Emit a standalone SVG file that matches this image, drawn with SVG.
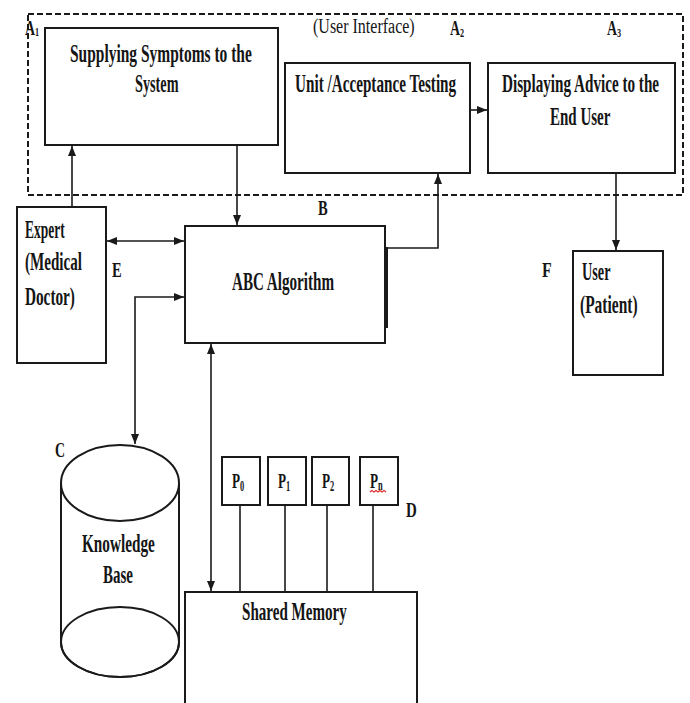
<svg xmlns="http://www.w3.org/2000/svg" width="690" height="703" viewBox="0 0 690 703">
<style>
.t{font-family:"Liberation Serif","Times New Roman",serif;font-weight:bold;font-size:25px;fill:#151515}
.l{font-family:"Liberation Serif","Times New Roman",serif;font-weight:bold;font-size:22px;fill:#151515}
.h{font-family:"Liberation Serif","Times New Roman",serif;font-weight:normal;font-size:20px;fill:#151515}
.box{fill:#fff;stroke:#1a1a1a;stroke-width:2}
.c{fill:none;stroke:#1a1a1a;stroke-width:1.6}
.frame{fill:none;stroke:#1a1a1a;stroke-width:2;stroke-dasharray:6 3}
</style>
<defs>
<marker id="ah" markerUnits="userSpaceOnUse" markerWidth="10" markerHeight="10" viewBox="0 0 10 10" refX="10" refY="5" orient="auto-start-reverse">
<path d="M0,1 L10,5 L0,9 Z" fill="#1a1a1a"/>
</marker>
</defs>
<rect width="690" height="703" fill="#fff"/>

<g id="ui-frame">
<rect class="frame" x="28" y="14" width="655" height="181"/>
<text class="h" transform="translate(313,33) scale(0.8,1)">(User Interface)</text>
<text class="l" transform="translate(25,35) scale(0.63,1)">A<tspan font-size="13" dy="1">1</tspan></text>
<text class="l" transform="translate(450,35) scale(0.63,1)">A<tspan font-size="13" dy="2">2</tspan></text>
<text class="l" transform="translate(607,35) scale(0.63,1)">A<tspan font-size="13" dy="2">3</tspan></text>
</g>

<g id="connectors">
<line class="c" x1="72" y1="207" x2="72" y2="146" marker-end="url(#ah)"/>
<line class="c" x1="237" y1="145" x2="237" y2="225" marker-end="url(#ah)"/>
<line class="c" x1="107" y1="241" x2="184" y2="241" marker-start="url(#ah)" marker-end="url(#ah)"/>
<polyline class="c" points="184,297 135,297 135,444" marker-start="url(#ah)" marker-end="url(#ah)"/>
<line class="c" x1="211" y1="344" x2="211" y2="591" marker-start="url(#ah)" marker-end="url(#ah)"/>
<polyline class="c" points="387,248 438,248 438,174" marker-end="url(#ah)"/>
<line class="c" x1="470" y1="110" x2="487" y2="110" marker-end="url(#ah)"/>
<line class="c" x1="616" y1="173" x2="616" y2="250" marker-end="url(#ah)"/>
<line class="c" x1="240" y1="505" x2="240" y2="592"/>
<line class="c" x1="285" y1="505" x2="285" y2="592"/>
<line class="c" x1="327" y1="505" x2="327" y2="592"/>
<line class="c" x1="373" y1="505" x2="373" y2="592"/>
</g>

<g id="supplying">
<rect class="box" x="45" y="28" width="233" height="117"/>
<text class="t" transform="translate(70,62) scale(0.619,1)">Supplying Symptoms to the</text>
<text class="t" transform="translate(135,92) scale(0.57,1)">System</text>
</g>

<g id="unit-testing">
<rect class="box" x="285" y="63" width="185" height="110"/>
<text class="t" transform="translate(295,92) scale(0.608,1)">Unit /Acceptance Testing</text>
</g>

<g id="displaying">
<rect class="box" x="488" y="63" width="187" height="110"/>
<text class="t" transform="translate(502,92) scale(0.607,1)">Displaying Advice to the</text>
<text class="t" transform="translate(550,125) scale(0.6,1)">End User</text>
</g>

<g id="expert">
<rect class="box" x="17" y="207" width="89" height="156"/>
<text class="t" transform="translate(25,238) scale(0.54,1)">Expert</text>
<text class="t" transform="translate(25,270) scale(0.604,1)">(Medical</text>
<text class="t" transform="translate(25,305) scale(0.61,1)">Doctor)</text>
<text class="l" transform="translate(112,277) scale(0.66,1)">E</text>
</g>

<g id="abc">
<rect class="box" x="185" y="226" width="200" height="117"/>
<line x1="387" y1="247" x2="387" y2="328" stroke="#1a1a1a" stroke-width="2"/>
<text class="t" transform="translate(232,290) scale(0.605,1)">ABC Algorithm</text>
<text class="l" transform="translate(318,215) scale(0.66,1)">B</text>
</g>

<g id="user">
<rect class="box" x="573" y="251" width="90" height="124"/>
<text class="t" transform="translate(582,280) scale(0.57,1)">User</text>
<text class="t" transform="translate(580,313) scale(0.62,1)">(Patient)</text>
<text class="l" transform="translate(542,277) scale(0.72,1)">F</text>
</g>

<g id="knowledge-base">
<path class="box" d="M61,483 L61,642 A59,35 0 0 0 179,642 L179,483"/>
<ellipse class="box" cx="120" cy="483" rx="59" ry="38"/>
<ellipse cx="120" cy="642" rx="59" ry="35" fill="none" stroke="#1a1a1a" stroke-width="2"/>
<text class="t" transform="translate(82,552) scale(0.61,1)">Knowledge</text>
<text class="t" transform="translate(103,583) scale(0.6,1)">Base</text>
<text class="l" transform="translate(55,457) scale(0.63,1)">C</text>
</g>

<g id="p0">
<rect class="box" x="222" y="457" width="38" height="48"/>
<text class="l" transform="translate(232,488) scale(0.6,1)">P<tspan font-size="14" dy="3">0</tspan></text>
</g>
<g id="p1">
<rect class="box" x="268" y="457" width="38" height="48"/>
<text class="l" transform="translate(278,488) scale(0.6,1)">P<tspan font-size="14" dy="3">1</tspan></text>
</g>
<g id="p2">
<rect class="box" x="312" y="457" width="37" height="48"/>
<text class="l" transform="translate(322,488) scale(0.6,1)">P<tspan font-size="14" dy="3">2</tspan></text>
</g>
<g id="pn">
<rect class="box" x="360" y="457" width="38" height="48"/>
<text class="l" transform="translate(370,488) scale(0.6,1)">P<tspan font-size="14" dy="2">n</tspan></text>
<path d="M370,492 l2,-1.5 l2,1.5 l2,-1.5 l2,1.5 l2,-1.5 l2,1.5 l2,-1.5 l2,1.5" fill="none" stroke="#e03030" stroke-width="1.2"/>
<text class="l" transform="translate(406,517) scale(0.68,1)">D</text>
</g>

<g id="shared-memory">
<path class="box" d="M185,703 L185,592 L417,592 L417,703"/>
<text class="t" transform="translate(242,620) scale(0.603,1)">Shared Memory</text>
</g>
</svg>
